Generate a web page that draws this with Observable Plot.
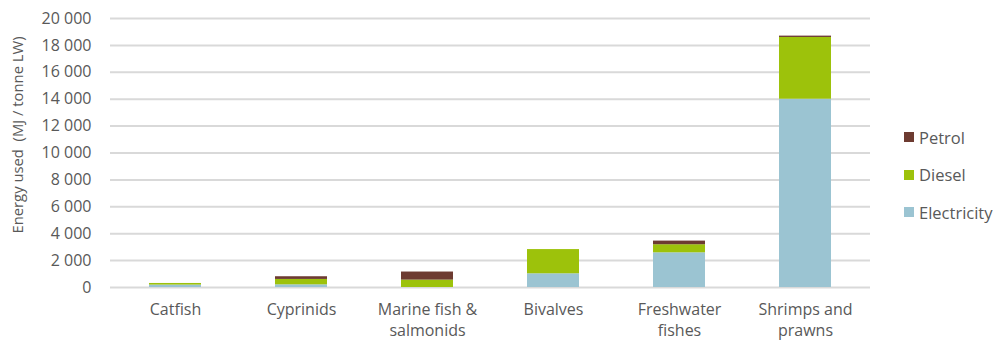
<!DOCTYPE html>
<html>
<head>
<meta charset="utf-8">
<script src="https://cdn.jsdelivr.net/npm/d3@7"></script>
<script src="https://cdn.jsdelivr.net/npm/@observablehq/plot@0.6"></script>
<style>
  html, body { margin: 0; padding: 0; background: #fff; }
  #wrap { position: relative; width: 1000px; height: 343px; font-family: "Open Sans", sans-serif; }
  #legend { position: absolute; left: 904px; top: 127px; color: #595959; font-size: 16.5px; }
  #legend .item { display: flex; align-items: center; height: 20px; margin-bottom: 17.5px; }
  #legend .sw { width: 10px; height: 10px; margin-right: 5px; }
</style>
</head>
<body>
<div id="wrap"></div>
<script>
const categories = ["Catfish", "Cyprinids", "Marine fish &\nsalmonids", "Bivalves", "Freshwater\nfishes", "Shrimps and\nprawns"];
const series = ["Electricity", "Diesel", "Petrol"];
const electricity = [180, 200, 0, 1020, 2580, 14000];
const diesel = [120, 400, 550, 1800, 600, 4590];
const petrol = [0, 200, 600, 0, 270, 100];
const colors = ["#9bc4d2", "#9dc20b", "#6d3b31"];
const yTicks = [0, 2000, 4000, 6000, 8000, 10000, 12000, 14000, 16000, 18000, 20000];
const yTitle = "Energy used  (MJ / tonne LW)";

const values = {Electricity: electricity, Diesel: diesel, Petrol: petrol};
const data = [];
for (const s of series) categories.forEach((c, i) => data.push({category: c, series: s, value: values[s][i]}));

const fmt = d => d3.format(",")(d).replace(/,/g, " ");

const chart = Plot.plot({
  width: 1000,
  height: 343,
  marginLeft: 110,
  marginRight: 130,
  marginTop: 18,
  marginBottom: 56,
  style: {fontFamily: "Open Sans, sans-serif", fontSize: "16px", color: "#595959", background: "#fff"},
  x: {domain: categories, paddingInner: 0.59, paddingOuter: 0.295, label: null},
  y: {domain: [0, 20000], label: null},
  color: {domain: series, range: colors},
  marks: [
    Plot.ruleY(yTicks, {stroke: "#d9d9d9", strokeWidth: 2}),
    Plot.barY(data, {x: "category", y: "value", fill: "series", order: series}),
    Plot.axisY(yTicks, {tickSize: 0, tickPadding: 19, tickFormat: fmt, fontSize: 16, fill: "#595959"}),
    Plot.axisX({tickSize: 0, tickPadding: 13, fontSize: 16, lineHeight: 1.3, fill: "#595959"}),
    Plot.text([yTitle], {frameAnchor: "left", textAnchor: "middle", dx: -92, dy: -18, rotate: -90, fontSize: 14.8, fill: "#595959"})
  ]
});
document.getElementById("wrap").appendChild(chart);

const legend = document.createElement("div");
legend.id = "legend";
[...series].reverse().forEach(s => {
  const item = document.createElement("div");
  item.className = "item";
  const sw = document.createElement("div");
  sw.className = "sw";
  sw.style.background = colors[series.indexOf(s)];
  const t = document.createElement("span");
  t.textContent = s;
  item.appendChild(sw); item.appendChild(t);
  legend.appendChild(item);
});
document.getElementById("wrap").appendChild(legend);
</script>
</body>
</html>
